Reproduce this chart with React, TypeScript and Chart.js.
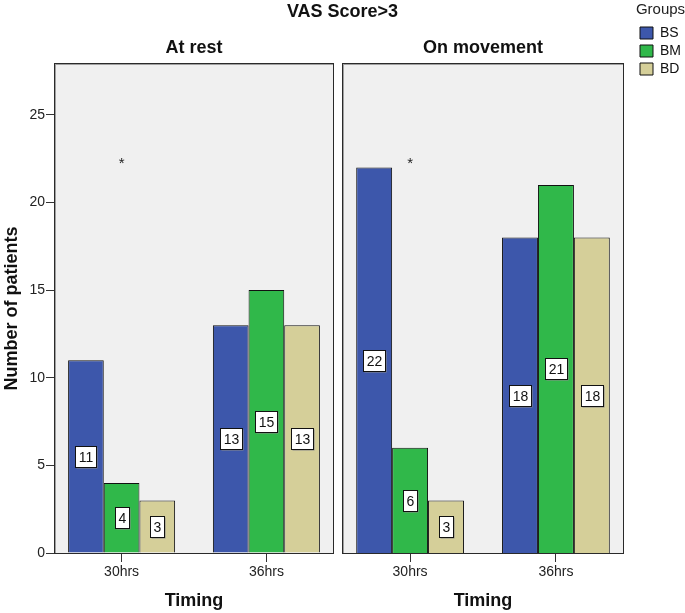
import React, { useEffect, useRef } from 'react';
import { Chart, registerables } from 'chart.js';

Chart.register(...registerables);

// ---------- data ----------
const categories = ['30hrs', '36hrs'];
const groups = ['BS', 'BM', 'BD'];
const groupColors = ['#3d57ab', '#30b84a', '#d5cf99'];

const atRestBS = [11, 13];
const atRestBM = [4, 15];
const atRestBD = [3, 13];

const onMoveBS = [22, 18];
const onMoveBM = [6, 21];
const onMoveBD = [3, 18];

const yTicks = [0, 5, 10, 15, 20, 25];
const yMax = 27.9;

const asteriskAtRest = ['*', ''];
const asteriskOnMove = ['*', ''];
const asteriskLevel = 22.2;

const mainTitle = 'VAS Score>3';
const panelTitles = ['At rest', 'On movement'];
const xTitle = 'Timing';
const yTitle = 'Number of patients';
const legendTitle = 'Groups';

// ---------- styling ----------
const FONT = "'Liberation Sans', Arial, sans-serif";
Chart.defaults.font.family = FONT;

function makeDatasets(series: number[][]) {
  return groups.map((g, k) => ({
    label: g,
    data: series[k].map((v, i) => ({ x: i, y: v })),
    backgroundColor: groupColors[k],
    borderColor: '#111111',
    borderWidth: 1,
    barPercentage: 1,
    categoryPercentage: 0.739,
  }));
}

const panelPlugin = {
  id: 'panel',
  beforeDatasetsDraw(chart: any) {
    const { ctx, chartArea: a } = chart;
    ctx.save();
    ctx.fillStyle = '#f0f0f0';
    ctx.fillRect(a.left, a.top, a.right - a.left, a.bottom - a.top);
    ctx.restore();
  },
  afterDatasetsDraw(chart: any, _args: any, opts: any) {
    const { ctx, chartArea: a } = chart;
    const w = a.right - a.left;
    const h = a.bottom - a.top;
    ctx.save();
    // frame with soft shadow
    ctx.lineWidth = 1;
    ctx.strokeStyle = '#a0a0a0';
    ctx.strokeRect(a.left + 0.5, a.top + 0.5, w, h);
    ctx.strokeStyle = '#2a2a2a';
    ctx.strokeRect(a.left - 0.5, a.top - 0.5, w + 1, h + 1);

    // value labels
    ctx.font = `14px ${FONT}`;
    ctx.textAlign = 'center';
    ctx.textBaseline = 'middle';
    chart.data.datasets.forEach((ds: any, i: number) => {
      const meta = chart.getDatasetMeta(i);
      meta.data.forEach((bar: any, j: number) => {
        const v = ds.data[j].y;
        const text = String(v);
        const tw = ctx.measureText(text).width;
        const bw = Math.round(tw + 6);
        const bh = 21;
        const cx = bar.x;
        const cy = (bar.y + bar.base) / 2;
        const x0 = Math.round(cx - bw / 2) + 0.5;
        const y0 = Math.round(cy - bh / 2) + 0.5;
        ctx.fillStyle = '#8a8a8a';
        ctx.fillRect(x0 + 1, y0 + 1, bw, bh);
        ctx.fillStyle = '#ffffff';
        ctx.fillRect(x0, y0, bw, bh);
        ctx.strokeStyle = '#111';
        ctx.strokeRect(x0, y0, bw, bh);
        ctx.fillStyle = '#111';
        ctx.fillText(text, x0 + bw / 2, y0 + bh / 2 + 1);
      });
    });

    // significance marks
    const xs = chart.scales.x;
    const ys = chart.scales.y;
    (opts.asterisks || []).forEach((t: string, j: number) => {
      if (!t) return;
      ctx.fillStyle = '#222';
      ctx.font = `15px ${FONT}`;
      ctx.fillText(t, xs.getPixelForValue(j), ys.getPixelForValue(asteriskLevel));
    });
    ctx.restore();
  },
};

function xScale() {
  return {
    type: 'linear',
    min: -0.46,
    max: 1.46,
    bounds: 'data',
    offset: false,
    afterBuildTicks: (s: any) => {
      s.ticks = categories.map((_, i) => ({ value: i }));
    },
    ticks: {
      callback: (v: any) => categories[v] ?? '',
      font: { family: FONT, size: 14 },
      color: '#222',
      padding: 2,
      autoSkip: false,
      maxRotation: 0,
    },
    grid: { display: true, drawOnChartArea: false, drawTicks: true, tickLength: 9, color: '#333', offset: false },
    border: { display: false },
    title: {
      display: true,
      text: xTitle,
      font: { family: FONT, size: 18, weight: 'bold' },
      color: '#111',
      padding: { top: 0, bottom: 1.2 },
    },
    afterFit: (s: any) => {
      s.height = 60;
    },
  };
}

export default function App() {
  const leftRef = useRef<HTMLCanvasElement>(null);
  const rightRef = useRef<HTMLCanvasElement>(null);

  useEffect(() => {
    document.body.style.margin = '0';
    document.body.style.overflow = 'hidden';

    const left = new Chart(leftRef.current as HTMLCanvasElement, {
      type: 'bar',
      data: { datasets: makeDatasets([atRestBS, atRestBM, atRestBD]) as any },
      plugins: [panelPlugin],
      options: {
        responsive: false,
        animation: false,
        events: [],
        layout: { padding: 0 },
        scales: {
          x: xScale() as any,
          y: {
            type: 'linear',
            position: 'left',
            min: 0,
            max: yMax,
            bounds: 'data',
            afterBuildTicks: (s: any) => {
              s.ticks = yTicks.map((v) => ({ value: v }));
            },
            ticks: { font: { family: FONT, size: 14 }, color: '#222', padding: 1 },
            grid: { drawOnChartArea: false, drawTicks: true, tickLength: 9, color: '#333' },
            border: { display: false },
            title: {
              display: true,
              text: yTitle,
              font: { family: FONT, size: 18, weight: 'bold' },
              color: '#111',
              padding: { top: 1, bottom: 0 },
            },
            afterFit: (s: any) => {
              s.width = 55;
            },
          },
          y2: {
            type: 'linear',
            position: 'right',
            display: true,
            grid: { display: false },
            ticks: { display: false },
            border: { display: false },
            afterFit: (s: any) => {
              s.width = 352;
            },
          },
        },
        plugins: {
          legend: { display: false },
          tooltip: { enabled: false },
          title: {
            display: true,
            text: mainTitle,
            color: '#111',
            font: { family: FONT, size: 18, weight: 'bold' },
            padding: { top: 1, bottom: 7 },
          },
          subtitle: {
            display: true,
            text: panelTitles[0],
            fullSize: false,
            color: '#111',
            font: { family: FONT, size: 18, weight: 'bold' },
            padding: { top: 7.6, bottom: 5.2 },
          },
          panel: { asterisks: asteriskAtRest },
        } as any,
      },
    });

    const right = new Chart(rightRef.current as HTMLCanvasElement, {
      type: 'bar',
      data: { datasets: makeDatasets([onMoveBS, onMoveBM, onMoveBD]) as any },
      plugins: [panelPlugin],
      options: {
        responsive: false,
        animation: false,
        events: [],
        layout: { padding: { left: 343, right: 0, top: 0, bottom: 0 } },
        scales: {
          x: xScale() as any,
          y: {
            type: 'linear',
            position: 'right',
            min: 0,
            max: yMax,
            bounds: 'data',
            afterBuildTicks: (s: any) => {
              s.ticks = yTicks.map((v) => ({ value: v }));
            },
            ticks: { display: false },
            grid: { display: false },
            border: { display: false },
            afterFit: (s: any) => {
              s.width = 13;
            },
          },
        },
        plugins: {
          legend: {
            display: true,
            position: 'right',
            align: 'start',
            maxWidth: 49,
            labels: {
              boxWidth: 13,
              boxHeight: 12,
              padding: 4,
              color: '#111',
              font: { family: FONT, size: 14 },
            },
            title: {
              display: true,
              text: legendTitle,
              position: 'center',
              color: '#222',
              font: { family: FONT, size: 15 },
              padding: { top: 2, bottom: 2 },
            },
          },
          tooltip: { enabled: false },
          title: {
            display: true,
            text: panelTitles[1],
            fullSize: false,
            color: '#111',
            font: { family: FONT, size: 18, weight: 'bold' },
            padding: { top: 37.2, bottom: 5.2 },
          },
          panel: { asterisks: asteriskOnMove },
        } as any,
      },
    });

    return () => {
      left.destroy();
      right.destroy();
    };
  }, []);

  return (
    <div style={{ position: 'relative', width: 685, height: 613, background: '#ffffff', overflow: 'hidden' }}>
      <canvas ref={leftRef} width={685} height={613} style={{ position: 'absolute', left: 0, top: 0 }} />
      <canvas ref={rightRef} width={685} height={613} style={{ position: 'absolute', left: 0, top: 0 }} />
    </div>
  );
}
